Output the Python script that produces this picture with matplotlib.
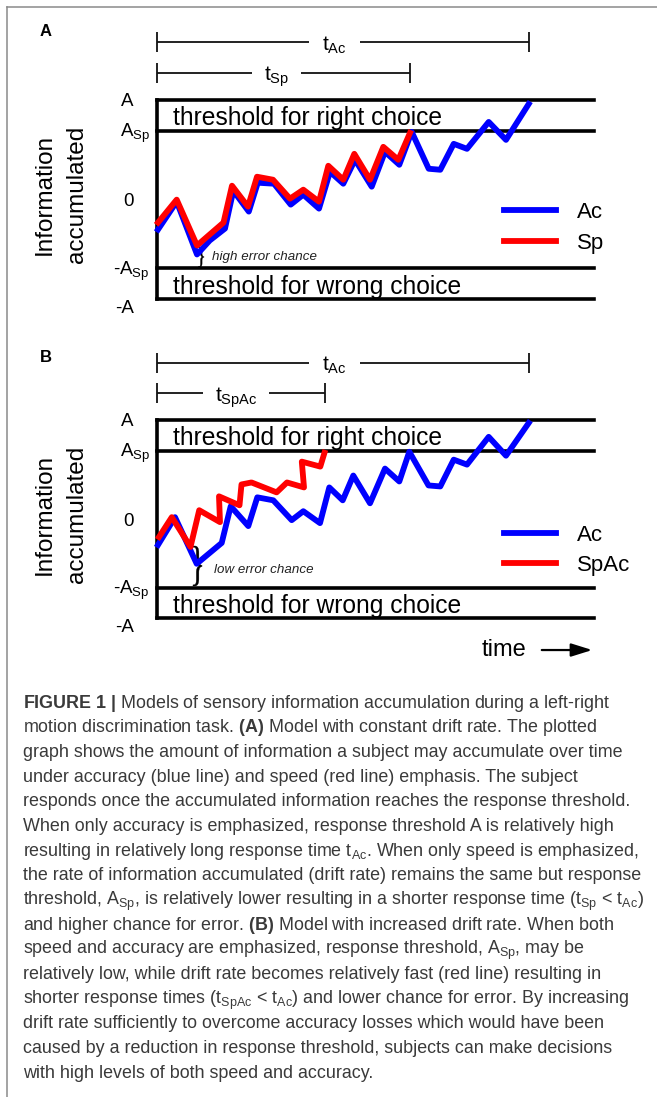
import matplotlib
matplotlib.use("Agg")
import matplotlib.pyplot as plt
from matplotlib.font_manager import FontProperties
from matplotlib.lines import Line2D
from matplotlib.patches import PathPatch
from matplotlib.textpath import TextPath
from matplotlib.transforms import Affine2D

plt.rcParams["font.family"] = ["Liberation Sans", "DejaVu Sans"]
plt.rcParams["mathtext.fontset"] = "custom"
plt.rcParams["mathtext.rm"] = "Liberation Sans"
plt.rcParams["mathtext.it"] = "Liberation Sans:italic"
plt.rcParams["mathtext.bf"] = "Liberation Sans:bold"

# thresholds, in units of A
A_FULL = 1.0
A_SP = 0.69
T_END = 43.7

# response times
T_AC = 37.17
T_SP = 25.3
T_SPAC = 16.8

# panel A: accuracy (Ac) and speed (Sp) emphasis
t_ac_a = [0.1, 1.97, 4.0, 5.27, 6.8, 7.63, 9.18, 10.08, 11.7, 13.37, 14.63,
          16.2, 17.3, 18.63, 19.8, 21.47, 22.8, 24.23, 25.47, 27.17, 28.33,
          29.67, 31.0, 33.17, 34.9, 37.17]
y_ac_a = [-0.30, -0.02, -0.55, -0.41, -0.29, 0.09, -0.12, 0.17, 0.16, -0.05,
          0.05, -0.09, 0.28, 0.16, 0.40, 0.13, 0.48, 0.35, 0.68, 0.31, 0.30,
          0.56, 0.51, 0.78, 0.60, 0.96]
t_sp_a = [0.1, 1.97, 4.0, 5.15, 6.65, 7.5, 9.1, 10.0, 11.6, 13.3, 14.63,
          16.2, 17.13, 18.63, 19.73, 21.3, 22.63, 24.13, 25.3]
y_sp_a = [-0.23, 0.0, -0.46, -0.36, -0.23, 0.14, -0.07, 0.23, 0.20, 0.01,
          0.10, -0.02, 0.34, 0.20, 0.46, 0.20, 0.53, 0.40, 0.67]

# panel B: accuracy (Ac) and speed+accuracy (SpAc) emphasis
t_ac_b = [0.1, 1.8, 3.97, 6.47, 7.37, 9.13, 10.03, 11.63, 13.47, 14.63,
          16.3, 17.23, 18.57, 19.63, 21.3, 22.8, 24.23, 25.23, 27.15, 28.33,
          29.67, 31.0, 33.17, 34.9, 37.17]
y_ac_b = [-0.26, 0.02, -0.45, -0.24, 0.13, -0.07, 0.22, 0.19, -0.01, 0.08,
          -0.04, 0.32, 0.19, 0.44, 0.16, 0.51, 0.38, 0.68, 0.34, 0.33, 0.60,
          0.55, 0.83, 0.64, 0.97]
t_spac_b = [0.2, 1.48, 3.35, 4.22, 6.3, 6.2, 8.25, 8.45, 9.45, 11.96, 13.0,
            14.7, 14.48, 16.33, 16.75]
y_spac_b = [-0.18, 0.02, -0.28, 0.09, -0.03, 0.23, 0.14, 0.35, 0.37, 0.27,
            0.37, 0.32, 0.58, 0.53, 0.67]

tick_levels = [A_FULL, A_SP, 0.0, -A_SP, -A_FULL]
tick_labels = ["A", r"A$_\mathregular{Sp}$", "0", r"-A$_\mathregular{Sp}$", "-A"]

caption = [
    r"$\mathbf{FIGURE\ 1\ |}$ Models of sensory information accumulation during a left-right",
    r"motion discrimination task. $\mathbf{(A)}$ Model with constant drift rate. The plotted",
    "graph shows the amount of information a subject may accumulate over time",
    "under accuracy (blue line) and speed (red line) emphasis. The subject",
    "responds once the accumulated information reaches the response threshold.",
    "When only accuracy is emphasized, response threshold A is relatively high",
    r"resulting in relatively long response time t$_\mathregular{Ac}$. When only speed is emphasized,",
    "the rate of information accumulated (drift rate) remains the same but response",
    r"threshold, A$_\mathregular{Sp}$, is relatively lower resulting in a shorter response time (t$_\mathregular{Sp}$ < t$_\mathregular{Ac}$)",
    r"and higher chance for error. $\mathbf{(B)}$ Model with increased drift rate. When both",
    r"speed and accuracy are emphasized, response threshold, A$_\mathregular{Sp}$, may be",
    "relatively low, while drift rate becomes relatively fast (red line) resulting in",
    r"shorter response times (t$_\mathregular{SpAc}$ < t$_\mathregular{Ac}$) and lower chance for error. By increasing",
    "drift rate sufficiently to overcome accuracy losses which would have been",
    "caused by a reduction in response threshold, subjects can make decisions",
    "with high levels of both speed and accuracy.",
]

BLUE = "#0000ff"
RED = "#ff0000"
W, H = 657, 1097


def brace(ax, x, y0, y1, width):
    """ Right-facing curly brace stretched between y0 and y1. """
    tp = TextPath((0, 0), "}", size=1, prop=FontProperties(family="Liberation Serif"))
    ext = tp.get_extents()
    tr = (Affine2D().translate(-ext.x0, -ext.y0)
          .scale(width / ext.width, (y1 - y0) / ext.height)
          .translate(x, y0))
    ax.add_patch(PathPatch(tr.transform_path(tp), fc="black", ec="black",
                           lw=0.3, clip_on=False))


def span_bar(ax, y, t_end, label, gap):
    kw = dict(color="#111111", lw=1.3, clip_on=False, solid_capstyle="butt")
    ax.plot([0, gap[0]], [y, y], **kw)
    ax.plot([gap[1], t_end], [y, y], **kw)
    for t in (0, t_end):
        ax.plot([t, t], [y - 0.1, y + 0.1], **kw)
    ax.text((gap[0] + gap[1]) / 2, y - 0.085, label, ha="center",
            va="baseline", fontsize=15)


def panel(rect, t_ac, y_ac, t_red, y_red, red_label, t_red_end, red_bar,
          red_gap, note, note_x, note_y, brace_spec, legend_top):
    ax = fig.add_axes(rect)
    ax.set_xlim(0, T_END)
    ax.set_ylim(-1, 1)
    ax.axis("off")

    lkw = dict(color="black", lw=2.6, clip_on=False, solid_capstyle="projecting")
    for lev in tick_levels:
        if lev != 0:
            ax.plot([0, T_END], [lev, lev], **lkw)
    ax.plot([0, 0], [-A_FULL, A_FULL], **lkw)

    ax.plot(t_ac, y_ac, color=BLUE, lw=4.2, label="Ac", clip_on=False)
    ax.plot(t_red, y_red, color=RED, lw=4.2, label=red_label, clip_on=False)

    for lev, lab, dx in zip(tick_levels, tick_labels, [-3.6, -3.7, -3.4, -4.4, -4.2]):
        yy = lev - 0.07 if lev == -A_FULL else lev
        ax.text(dx, yy - 0.065, lab, ha="left", va="baseline", fontsize=13.5)

    ax.text(-11.2, 0.05, "Information", rotation=90, ha="center", va="center",
            fontsize=17.5)
    ax.text(-8.0, 0.05, "accumulated", rotation=90, ha="center", va="center",
            fontsize=17.5)

    ax.text(1.6, 0.75, "threshold for right choice", fontsize=17.7, va="baseline")
    ax.text(1.6, -0.945, "threshold for wrong choice", fontsize=17.7, va="baseline")

    span_bar(ax, 1.578, T_AC, r"t$_\mathregular{Ac}$", (15.2, 20.3))
    span_bar(ax, red_bar, t_red_end, red_gap[2], red_gap[:2])

    brace(ax, *brace_spec)
    ax.text(note_x, note_y, note, style="italic", fontsize=9.6, va="center",
            color="#222222")

    ax.legend(loc="upper left", bbox_to_anchor=(0.793, legend_top),
              frameon=False, fontsize=16, borderpad=0, borderaxespad=0,
              handlelength=2.35, handletextpad=0.95, labelspacing=0.42)
    return ax


fig = plt.figure(figsize=(W / 100, H / 100), dpi=100)

ax_a = panel([157 / W, 1 - 299.3 / H, 437 / W, 199.3 / H],
             t_ac_a, y_ac_a, t_sp_a, y_sp_a, "Sp", T_SP, 1.274,
             (9.5, 14.4, r"t$_\mathregular{Sp}$"), "high error chance", 5.5, -0.575,
             (4.15, -0.676, -0.475, 0.55), 0.487)
ax_b = panel([157 / W, 1 - 618.3 / H, 437 / W, 198.3 / H],
             t_ac_b, y_ac_b, t_spac_b, y_spac_b, "SpAc", T_SPAC, 1.269,
             (4.6, 11.2, r"t$_\mathregular{SpAc}$"), "low error chance", 5.7, -0.513,
             (3.6, -0.674, -0.271, 0.9), 0.473)

ax_b.text(32.5, -1.32, "time", fontsize=17, va="center", ha="left")
ax_b.annotate("", xy=(43.8, -1.32), xytext=(38.2, -1.32),
              arrowprops=dict(arrowstyle="-|>,head_length=0.8,head_width=0.25",
                              lw=1.6, color="black", mutation_scale=16),
              annotation_clip=False)

fig.text(46 / W, 1 - 32 / H, "A", fontsize=12, weight="bold", ha="center", va="center")
fig.text(46 / W, 1 - 358 / H, "B", fontsize=12, weight="bold", ha="center", va="center")

# frame lines of the page
fig.add_artist(Line2D([7.3 / W, 7.3 / W], [0, 1 - 6.7 / H], color="#8a8a8a", lw=1.1))
fig.add_artist(Line2D([7.3 / W, 1], [1 - 6.7 / H, 1 - 6.7 / H], color="#8a8a8a", lw=1.1))

for i, line in enumerate(caption):
    fig.text(22.7 / W, 1 - (707.5 + i * 24.67) / H, line,
             fontsize=12.9, color="#3a3a3a", ha="left", va="baseline")

fig.savefig("out.png", dpi=100)
